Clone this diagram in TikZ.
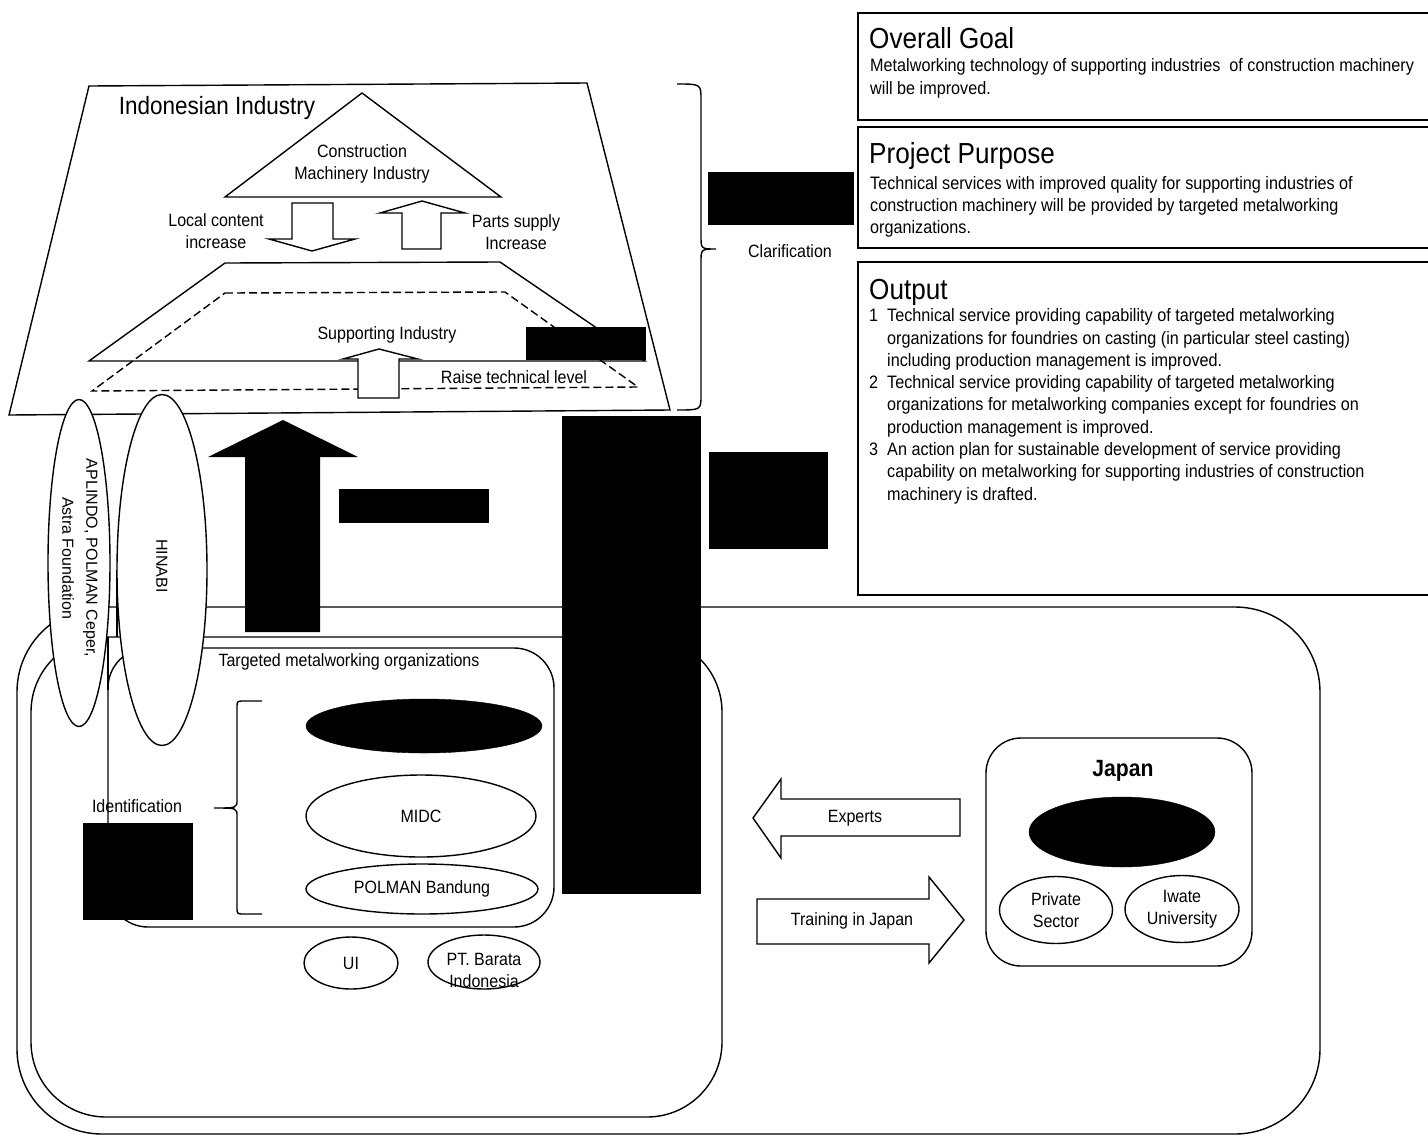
\documentclass[tikz,border=0pt]{standalone}
\usepackage{fontspec}
\setmainfont[FakeStretch=0.9]{Liberation Sans}
\newfontfamily\arialfont{Liberation Sans}
\usetikzlibrary{shapes.geometric}
\begin{document}
\begin{tikzpicture}[x=1pt,y=-1pt,
  ln/.style={line width=1.4pt},
  lbl/.style={font=\fontsize{17.8}{22}\selectfont, align=center, inner sep=0pt},
  oval/.style={ellipse, draw, line width=1.4pt, fill=white, inner sep=0pt, align=center, font=\fontsize{17.8}{22}\selectfont},
  blackoval/.style={ellipse, draw, fill=black, inner sep=0pt},
  hollow/.style={draw, line width=1.4pt, fill=white, line join=miter},
  goalbox/.style={draw, line width=2.5pt},
  title/.style={font=\fontsize{29}{34}\selectfont, anchor=base west, inner sep=0pt},
  body/.style={font=\fontsize{18}{22.3}\selectfont, anchor=west, inner sep=0pt},
  vtext/.style={rotate=-90, font=\arialfont\fontsize{16}{24}\selectfont, align=center, inner sep=0pt},
]
\useasboundingbox (0,0) rectangle (1428,1136);
\fill[white] (0,0) rectangle (1428,1136);

% ---------- outer frames ----------
\draw[ln, rounded corners=85pt] (17,607) rectangle (1320,1134);
\draw[ln, rounded corners=75pt] (31,637) rectangle (722,1117);
\draw[ln, rounded corners=40pt] (108,648) rectangle (554,927);
\draw[ln] (117,570) -- (117,637) (108,637) -- (108,690);

% ---------- Indonesian industry ----------
\draw[ln] (89,86) -- (587,83) -- (670,410) -- (9,415) -- cycle;
\node[font=\fontsize{25}{30}\selectfont, inner sep=0pt] (indo) at (217,108) {Indonesian Industry};
\draw[ln] (362,93) -- (501,197) -- (225,197) -- cycle;
\node[lbl] (cmi) at (362,164) {Construction\\Machinery Industry};
\draw[hollow] (292,203) -- (333,203) -- (333,239) -- (355,239) -- (312,251) -- (269,239) -- (292,239) -- cycle;
\node[lbl] (lci) at (216,231) {Local content\\increase};
\draw[hollow] (402,249) -- (402,213) -- (380,213) -- (422,201) -- (465,213) -- (441,213) -- (441,249) -- cycle;
\node[lbl] (psi) at (516,232) {Parts supply\\Increase};

% supporting industry
\draw[ln] (225,263) -- (500,262) -- (645,361) -- (89,361) -- cycle;
\draw[ln, dash pattern=on 8pt off 4pt] (225,293) -- (505,292) -- (638,387) -- (92,391) -- cycle;
\node[lbl] (sup) at (387,335) {Supporting Industry};
\node[lbl] (raise) at (514,377) {Raise technical level};
\draw[hollow] (358,398) -- (358,359) -- (343,359) -- (379,349) -- (418,359) -- (399,359) -- (399,398) -- cycle;
\fill (526,327) rectangle (646,360);

% clarification brace
\draw[ln] (677,84) .. controls (701,84) .. (701,100) -- (701,236)
  .. controls (701,249) .. (716,249) .. controls (701,249) .. (701,262)
  -- (701,395) .. controls (701,410) .. (677,410);
\node[lbl] (clar) at (790,251) {Clarification};
\fill (708,172) rectangle (854,225);

% ---------- goal boxes ----------
\draw[goalbox] (858,13) rectangle (1440,120);
\node[title] (goal) at (869,48.5) {Overall Goal};
\node[body] (goaltxt) at (870,78.5) {\begin{tabular}{@{}l@{}}
Metalworking technology of supporting industries~ of construction machinery\\
will be improved.\end{tabular}};

\draw[goalbox] (858,127) rectangle (1440,248);
\node[title] (purp) at (869,163.5) {Project Purpose};
\node[body] (purptxt) at (870,207) {\begin{tabular}{@{}l@{}}
Technical services with improved quality for supporting industries of\\
construction machinery will be provided by targeted metalworking\\
organizations.\end{tabular}};

\draw[goalbox] (858,262) rectangle (1440,595);
\node[title] (outp) at (869,299.5) {Output};
\node[body] (outptxt) at (869,406.5) {\begin{tabular}{@{}l@{\hspace{9pt}}l@{}}
1&Technical service providing capability of targeted metalworking\\
 &organizations for foundries on casting (in particular steel casting)\\
 &including production management is improved.\\
2&Technical service providing capability of targeted metalworking\\
 &organizations for metalworking companies except for foundries on\\
 &production management is improved.\\
3&An action plan for sustainable development of service providing\\
 &capability on metalworking for supporting industries of construction\\
 &machinery is drafted.\end{tabular}};

% ---------- black blocks and the big arrow ----------
\fill (562,416) rectangle (701,894);
\fill (709,452) rectangle (828,549);
\fill (339,489) rectangle (489,523);
\fill (283,420) -- (358,457) -- (320,457) -- (320,632) -- (245,632) -- (245,457) -- (208,457) -- cycle;

% ---------- side organisations ----------
\node[oval, minimum width=62pt, minimum height=327pt] (apl) at (79,563) {};
\node[vtext] (apltxt) at (80,558) {APLINDO, POLMAN Ceper,\\Astra Foundation};
\node[oval, minimum width=90pt, minimum height=351pt] (hin) at (162,570) {};
\node[vtext] (hintxt) at (162,566) {HINABI};

% ---------- targeted organisations ----------
\node[lbl] (tmo) at (349,662) {Targeted metalworking organizations};
\node[blackoval, minimum width=236pt, minimum height=54pt] (bo1) at (424,726) {};
\node[oval, minimum width=230pt, minimum height=82pt] (midc) at (421,816) {MIDC};
\node[oval, minimum width=232pt, minimum height=50pt] (polb) at (422,889) {POLMAN Bandung};
\draw[ln] (262,701) -- (244,701) .. controls (237,701) .. (237,708) -- (237,800)
  .. controls (237,808) .. (214,808) .. controls (237,808) .. (237,816)
  -- (237,907) .. controls (237,914) .. (244,914) -- (262,914);
\node[lbl] (ident) at (137,806) {Identification};
\fill (83,823) rectangle (193,920);
\node[oval, minimum width=94pt, minimum height=52pt] (ui) at (351,963) {UI};
\node[oval, minimum width=112pt, minimum height=54pt] (bar) at (484,962) {};
\node[lbl] (bartxt) at (484,970) {PT. Barata\\Indonesia};

% ---------- cooperation with Japan ----------
\draw[hollow] (753,818) -- (781,779) -- (781,799) -- (960,799) -- (960,836) -- (781,836) -- (781,858) -- cycle;
\node[lbl] (exp) at (855,818) {Experts};
\draw[hollow] (757,899) -- (929,899) -- (929,877) -- (964,920) -- (929,963) -- (929,944) -- (757,944) -- cycle;
\node[lbl] (tij) at (852,921) {Training in Japan};

\draw[ln, rounded corners=35pt] (986,738) rectangle (1252,966);
\node[font=\bfseries\fontsize{23.5}{28}\selectfont, inner sep=0pt] (japan) at (1123,771) {Japan};
\node[blackoval, minimum width=186pt, minimum height=70pt] (jo) at (1122,832) {};
\node[oval, minimum width=113pt, minimum height=67pt] (priv) at (1056,910) {Private\\Sector};
\node[oval, minimum width=114pt, minimum height=67pt] (iwate) at (1182,909) {Iwate\\University};
\end{tikzpicture}
\end{document}
